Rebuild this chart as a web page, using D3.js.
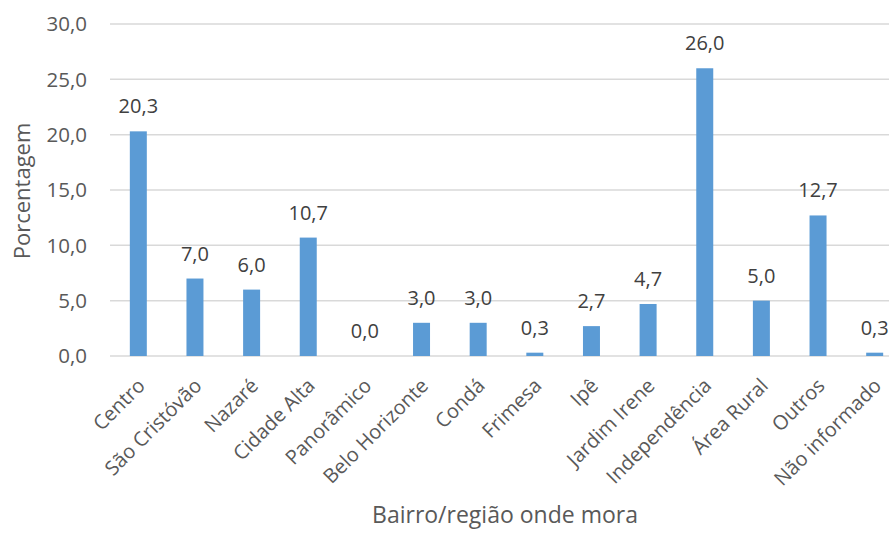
<!DOCTYPE html>
<html>
<head>
<meta charset="utf-8">
<script src="https://cdn.jsdelivr.net/npm/d3@7"></script>
<style>
  body { margin: 0; background: #fff; }
  text { font-family: "Open Sans", sans-serif; }
</style>
</head>
<body>
<div id="chart"></div>
<script>
var categories = ["Centro", "São Cristóvão", "Nazaré", "Cidade Alta", "Panorâmico",
  "Belo Horizonte", "Condá", "Frimesa", "Ipê", "Jardim Irene", "Independência",
  "Área Rural", "Outros", "Não informado"];
var values = [20.3, 7.0, 6.0, 10.7, 0.0, 3.0, 3.0, 0.3, 2.7, 4.7, 26.0, 5.0, 12.7, 0.3];
var yTicks = [0, 5, 10, 15, 20, 25, 30];

var width = 889, height = 533;
var margin = { top: 24, right: -14, bottom: 177, left: 110 };
var plotW = width - margin.left - margin.right;
var plotH = height - margin.top - margin.bottom;

var fmt = function (v) { return v.toFixed(1).replace(".", ","); };

var svg = d3.select("#chart")
  .append("svg")
  .attr("width", width)
  .attr("height", height)
  .append("g")
  .attr("transform", "translate(" + margin.left + "," + margin.top + ")");

var x = d3.scaleBand()
  .domain(categories)
  .range([0, plotW])
  .paddingInner(0.7)
  .paddingOuter(0.35);

var y = d3.scaleLinear()
  .domain([0, 30])
  .range([plotH, 0]);

// gridlines
svg.selectAll("line.grid")
  .data(yTicks)
  .enter()
  .append("line")
  .attr("class", "grid")
  .attr("x1", 0)
  .attr("x2", plotW)
  .attr("y1", d => y(d))
  .attr("y2", d => y(d))
  .style("stroke", "#d9d9d9")
  .style("stroke-width", 1.5);

// y tick labels
svg.selectAll("text.ytick")
  .data(yTicks)
  .enter()
  .append("text")
  .attr("class", "ytick")
  .attr("x", -23)
  .attr("y", d => y(d))
  .attr("dy", "0.35em")
  .attr("text-anchor", "end")
  .style("font-size", "20.5px")
  .style("fill", "#595959")
  .text(d => fmt(d));

// bars
svg.selectAll("rect.bar")
  .data(values)
  .enter()
  .append("rect")
  .attr("class", "bar")
  .attr("x", (d, i) => x(categories[i]))
  .attr("width", x.bandwidth())
  .attr("y", d => y(d))
  .attr("height", d => plotH - y(d))
  .style("fill", "#5b9bd5");

// value labels
svg.selectAll("text.val")
  .data(values)
  .enter()
  .append("text")
  .attr("class", "val")
  .attr("x", (d, i) => x(categories[i]) + x.bandwidth() / 2)
  .attr("y", d => y(d) - 18)
  .attr("text-anchor", "middle")
  .style("font-size", "20px")
  .style("fill", "#404040")
  .text(d => fmt(d));

// x labels
svg.selectAll("text.xlab")
  .data(categories)
  .enter()
  .append("text")
  .attr("class", "xlab")
  .attr("transform", d => "translate(" + (x(d) + x.bandwidth() / 2 + 3) + "," + (plotH + 26) + ") rotate(-45)")
  .attr("text-anchor", "end")
  .attr("dy", "0.35em")
  .style("font-size", "20px")
  .style("fill", "#595959")
  .text(d => d);

// axis titles
svg.append("text")
  .attr("x", 505 - margin.left)
  .attr("y", 523 - margin.top)
  .attr("text-anchor", "middle")
  .style("font-size", "23px")
  .style("fill", "#595959")
  .text("Bairro/região onde mora");

svg.append("text")
  .attr("transform", "translate(" + (30 - margin.left) + "," + (191 - margin.top) + ") rotate(-90)")
  .attr("text-anchor", "middle")
  .style("font-size", "22px")
  .style("fill", "#595959")
  .text("Porcentagem");
</script>
</body>
</html>
